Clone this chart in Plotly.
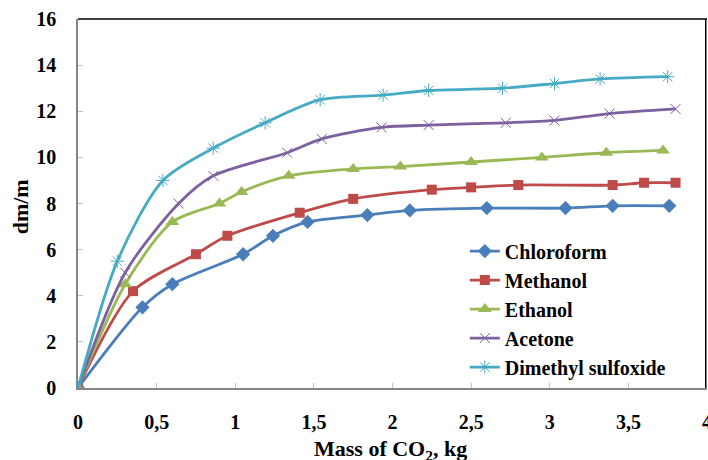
import plotly.graph_objects as go

# Data
chloroform_x = [0, 0.41, 0.60, 1.05, 1.24, 1.46, 1.84, 2.11, 2.60, 3.10, 3.40, 3.76]
chloroform_y = [0, 3.5, 4.5, 5.8, 6.6, 7.2, 7.5, 7.7, 7.8, 7.8, 7.9, 7.9]

methanol_x = [0, 0.35, 0.75, 0.95, 1.41, 1.75, 2.25, 2.50, 2.80, 3.40, 3.60, 3.80]
methanol_y = [0, 4.2, 5.8, 6.6, 7.6, 8.2, 8.6, 8.7, 8.8, 8.8, 8.9, 8.9]

ethanol_x = [0, 0.30, 0.60, 0.90, 1.04, 1.34, 1.75, 2.05, 2.50, 2.95, 3.36, 3.72]
ethanol_y = [0, 4.5, 7.2, 8.0, 8.5, 9.2, 9.5, 9.6, 9.8, 10.0, 10.2, 10.3]

acetone_x = [0, 0.30, 0.64, 0.86, 1.33, 1.55, 1.93, 2.23, 2.72, 3.03, 3.38, 3.80]
acetone_y = [0, 5.0, 8.0, 9.2, 10.2, 10.8, 11.3, 11.4, 11.5, 11.6, 11.9, 12.1]

dmso_x = [0, 0.25, 0.54, 0.86, 1.19, 1.54, 1.94, 2.23, 2.70, 3.03, 3.32, 3.75]
dmso_y = [0, 5.5, 9.0, 10.4, 11.5, 12.5, 12.7, 12.9, 13.0, 13.2, 13.4, 13.5]

x_title = "Mass of CO<sub>2</sub>, kg"
y_title = "dm/m"

series = [
    ("Chloroform", chloroform_x, chloroform_y, "#4A7EBB", dict(symbol="diamond", size=11)),
    ("Methanol", methanol_x, methanol_y, "#BE4B48", dict(symbol="square", size=10)),
    ("Ethanol", ethanol_x, ethanol_y, "#98B954", dict(symbol="triangle-up", size=12)),
    ("Acetone", acetone_x, acetone_y, "#7D60A0", dict(symbol="x-thin-open", size=10,
                                                      line=dict(width=1, color="#B3A2C7"))),
    ("Dimethyl sulfoxide", dmso_x, dmso_y, "#46AAC5", dict(symbol="asterisk-open", size=11,
                                                           line=dict(width=1, color="#93CDDD"))),
]

fig = go.Figure()
for name, xs, ys, color, mk in series:
    m = dict(color=color, **mk)
    fig.add_trace(go.Scatter(
        x=xs, y=ys, name="<b>" + name + "</b>", mode="lines+markers",
        line=dict(color=color, width=2.8, shape="spline", smoothing=0.8),
        marker=m,
    ))

ff = "Liberation Serif, Times New Roman, serif"
fig.update_layout(
    width=708, height=460, autosize=False,
    margin=dict(l=78, r=1, t=19, b=72),
    paper_bgcolor="white", plot_bgcolor="white",
    separators=", ",
    font=dict(family=ff, size=19, color="black"),
    showlegend=True,
    legend=dict(x=0.615, y=0.424, xanchor="left", yanchor="top",
                font=dict(family=ff, size=20, color="black"),
                bgcolor="rgba(0,0,0,0)", tracegroupgap=0, itemwidth=30),
    xaxis=dict(range=[0, 4], dtick=0.5, tick0=0, showgrid=False, zeroline=False,
               automargin=False, ticklabeloverflow="allow", ticklabelstandoff=15,
               showline=True, linecolor="#868686", linewidth=1.5,
               ticks="inside", ticklen=5, tickcolor="#C0C0C0",
               tickfont=dict(family=ff, size=20, weight="bold")),
    yaxis=dict(range=[0, 16], dtick=2, showgrid=False, zeroline=False,
               automargin=False, ticklabelstandoff=16,
               showline=True, linecolor="#868686", linewidth=1.5,
               ticks="inside", ticklen=5, tickcolor="#C0C0C0",
               tickfont=dict(family=ff, size=20, weight="bold")),
    annotations=[
        dict(text="<b>" + x_title + "</b>", xref="paper", yref="paper",
             x=0.497, y=-0.168, xanchor="center", yanchor="middle", showarrow=False,
             font=dict(family=ff, size=22, color="black")),
        dict(text="<b>" + y_title + "</b>", xref="paper", yref="paper",
             x=-0.092, y=0.49, xanchor="center", yanchor="middle", showarrow=False,
             textangle=-90, font=dict(family=ff, size=22, color="black")),
    ],
    shapes=[
        dict(type="line", xref="paper", yref="paper", x0=0, x1=1, y0=1, y1=1,
             line=dict(color="black", width=1.5)),
        dict(type="line", xref="paper", yref="paper", x0=0.998, x1=0.998, y0=0, y1=1,
             line=dict(color="black", width=1.5)),
    ],
)

fig.write_html(
    "out.html",
    config={"responsive": False, "displayModeBar": False},
    post_script="document.body.style.margin='0';document.body.style.overflow='hidden';",
)
